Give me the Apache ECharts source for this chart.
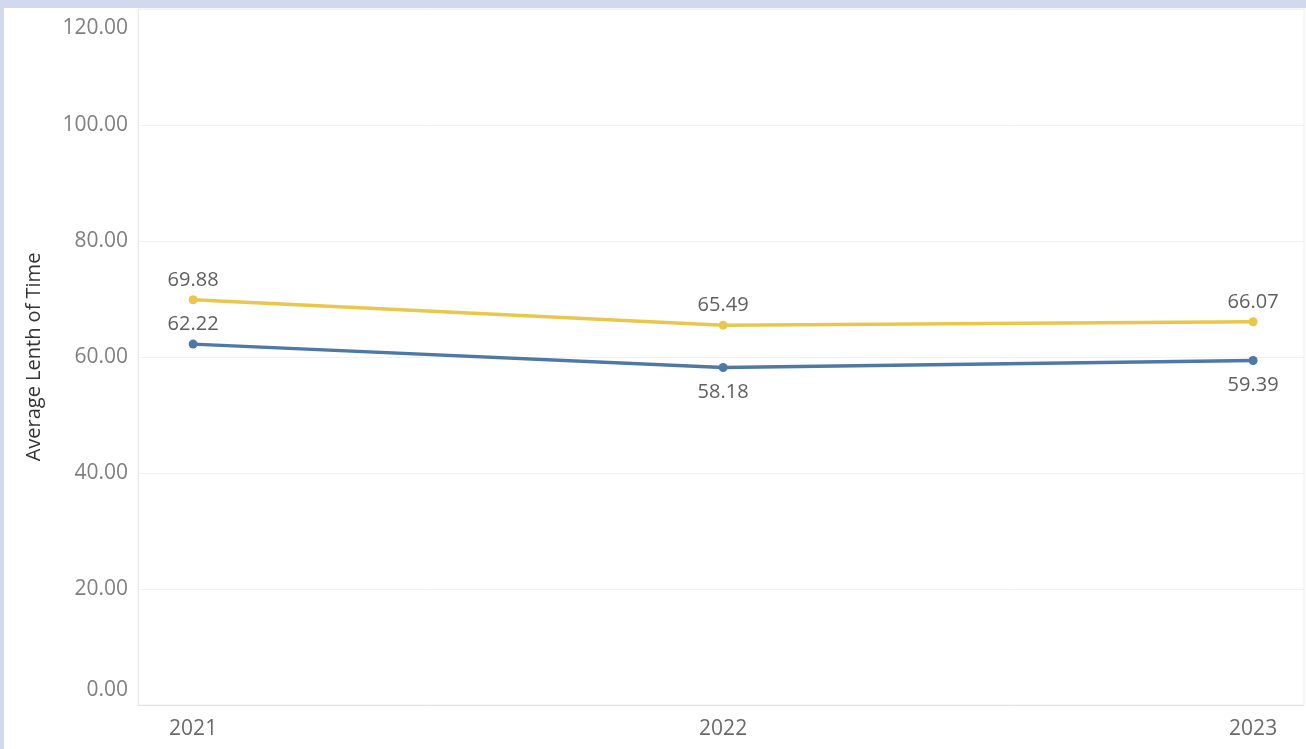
<!DOCTYPE html>
<html>
<head>
<meta charset="utf-8">
<script src="https://cdn.jsdelivr.net/npm/echarts@6/dist/echarts.min.js"></script>
<style>
  html, body { margin: 0; padding: 0; background: #d2d9ee; width: 1306px; height: 749px; overflow: hidden; }
  #chart { position: absolute; left: 4px; top: 8px; width: 1302px; height: 741px; background: #ffffff; }
</style>
</head>
<body>
<div id="chart"></div>
<script>
const years = [2021, 2022, 2023];
const seriesTop = [69.88, 65.49, 66.07];
const seriesBottom = [62.22, 58.18, 59.39];
const bottomLabelPos = ['top', 'bottom', 'bottom'];
const yTicks = [0, 20, 40, 60, 80, 100, 120];
const yAxisTitle = 'Average Lenth of Time';

const chart = echarts.init(document.getElementById('chart'));
const font = '"Open Sans", "Liberation Sans", sans-serif';

const option = {
  animation: false,
  textStyle: { fontFamily: font },
  grid: { left: 134, right: 2, top: 1, bottom: 44, containLabel: false, show: true, borderColor: '#ededed', borderWidth: 1 },
  xAxis: {
    type: 'value',
    min: 2020.896,
    max: 2023.096,
    axisLine: { show: true, lineStyle: { color: '#e4e4e4' } },
    axisTick: { show: false },
    splitLine: { show: false },
    axisLabel: {
      customValues: years,
      formatter: v => String(Math.round(v)),
      color: '#6a6a6a',
      fontSize: 21,
      fontFamily: font,
      margin: 14
    }
  },
  yAxis: {
    type: 'value',
    min: 0,
    max: 120,
    interval: 20,
    name: yAxisTitle,
    nameLocation: 'middle',
    nameGap: 94,
    nameTextStyle: { color: '#333', fontSize: 20, fontFamily: font },
    axisLine: { show: true, lineStyle: { color: '#ececec' } },
    axisTick: { show: false },
    splitLine: { show: true, lineStyle: { color: '#f2f2f2' } },
    axisLabel: {
      color: '#808080',
      fontSize: 21,
      fontFamily: font,
      margin: 10,
      formatter: v => {
        const s = v.toFixed(2);
        if (v === yTicks[0]) return '{lo|' + s + '}';
        if (v === yTicks[yTicks.length - 1]) return '{hi|' + s + '}';
        return s;
      },
      rich: {
        lo: { color: '#808080', fontSize: 21, fontFamily: font, padding: [0, 0, 30, 0] },
        hi: { color: '#808080', fontSize: 21, fontFamily: font, padding: [38, 0, 0, 0] }
      }
    }
  },
  series: [
    {
      name: 'top',
      type: 'line',
      data: years.map((y, i) => [y, seriesTop[i]]),
      symbol: 'circle',
      symbolSize: 9,
      lineStyle: { color: '#e9c74b', width: 3.5 },
      itemStyle: { color: '#e9c74b' },
      label: {
        show: true, position: 'top', distance: 5,
        color: '#606060', fontSize: 20, fontFamily: font,
        formatter: p => p.value[1].toFixed(2)
      }
    },
    {
      name: 'bottom',
      type: 'line',
      data: years.map((y, i) => ({
        value: [y, seriesBottom[i]],
        label: { position: bottomLabelPos[i], distance: bottomLabelPos[i] === 'top' ? 5 : 10 }
      })),
      symbol: 'circle',
      symbolSize: 9,
      lineStyle: { color: '#4e79a7', width: 3.5 },
      itemStyle: { color: '#4e79a7' },
      label: {
        show: true,
        color: '#606060', fontSize: 20, fontFamily: font,
        formatter: p => p.value[1].toFixed(2)
      }
    }
  ]
};
chart.setOption(option);
</script>
</body>
</html>
